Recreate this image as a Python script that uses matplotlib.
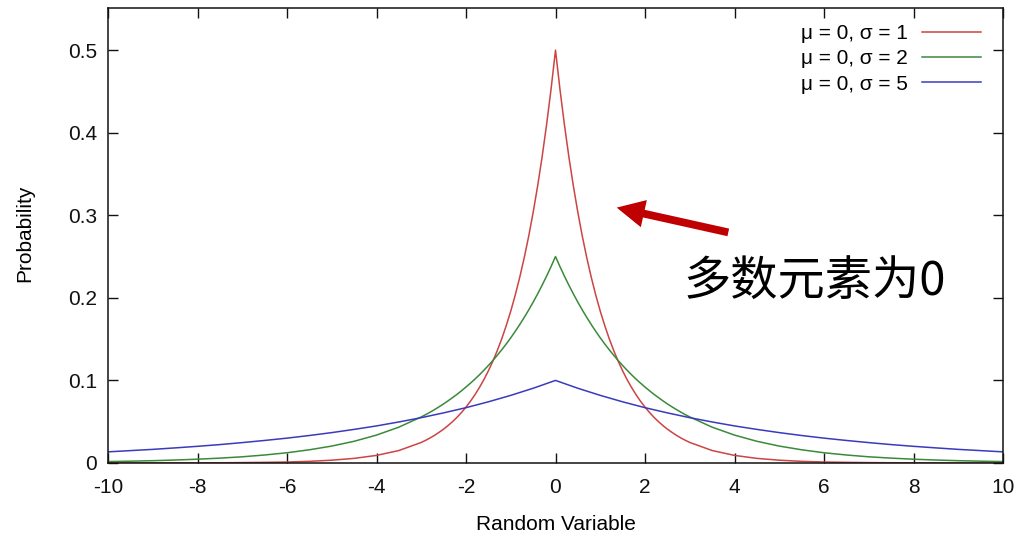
import matplotlib
matplotlib.use("Agg")
import matplotlib.pyplot as plt
from matplotlib.patches import FancyArrowPatch

# Values.
# x grid for the sharp curves: 0.5 steps in the tails, 0.1 steps around the peak
x_fine = [-10.0, -9.5, -9.0, -8.5, -8.0, -7.5, -7.0, -6.5, -6.0, -5.5, -5.0, -4.5, -4.0, -3.5,
          -3.0, -2.9, -2.8, -2.7, -2.6, -2.5, -2.4, -2.3, -2.2, -2.1,
          -2.0, -1.9, -1.8, -1.7, -1.6, -1.5, -1.4, -1.3, -1.2, -1.1,
          -1.0, -0.9, -0.8, -0.7, -0.6, -0.5, -0.4, -0.3, -0.2, -0.1,
          0.0,
          0.1, 0.2, 0.3, 0.4, 0.5, 0.6, 0.7, 0.8, 0.9, 1.0,
          1.1, 1.2, 1.3, 1.4, 1.5, 1.6, 1.7, 1.8, 1.9, 2.0,
          2.1, 2.2, 2.3, 2.4, 2.5, 2.6, 2.7, 2.8, 2.9, 3.0,
          3.5, 4.0, 4.5, 5.0, 5.5, 6.0, 6.5, 7.0, 7.5, 8.0, 8.5, 9.0, 9.5, 10.0]

sigma1 = [0.0000, 0.0000, 0.0001, 0.0001, 0.0002, 0.0003, 0.0005, 0.0008, 0.0012, 0.0020, 0.0034, 0.0056, 0.0092, 0.0151,
          0.0249, 0.0275, 0.0304, 0.0336, 0.0372, 0.0410, 0.0454, 0.0501, 0.0554, 0.0612,
          0.0677, 0.0748, 0.0827, 0.0914, 0.1010, 0.1116, 0.1233, 0.1363, 0.1506, 0.1665,
          0.1839, 0.2033, 0.2247, 0.2483, 0.2744, 0.3033, 0.3352, 0.3704, 0.4094, 0.4524,
          0.5000,
          0.4524, 0.4094, 0.3704, 0.3352, 0.3033, 0.2744, 0.2483, 0.2247, 0.2033, 0.1839,
          0.1665, 0.1506, 0.1363, 0.1233, 0.1116, 0.1010, 0.0914, 0.0827, 0.0748, 0.0677,
          0.0612, 0.0554, 0.0501, 0.0454, 0.0410, 0.0372, 0.0336, 0.0304, 0.0275, 0.0249,
          0.0151, 0.0092, 0.0056, 0.0034, 0.0020, 0.0012, 0.0008, 0.0005, 0.0003, 0.0002, 0.0001, 0.0001, 0.0000, 0.0000]

sigma2 = [0.0017, 0.0022, 0.0028, 0.0036, 0.0046, 0.0059, 0.0075, 0.0097, 0.0124, 0.0160, 0.0205, 0.0263, 0.0338, 0.0434,
          0.0558, 0.0586, 0.0616, 0.0648, 0.0681, 0.0716, 0.0753, 0.0792, 0.0832, 0.0875,
          0.0920, 0.0967, 0.1016, 0.1068, 0.1123, 0.1181, 0.1241, 0.1305, 0.1372, 0.1442,
          0.1516, 0.1594, 0.1676, 0.1762, 0.1852, 0.1947, 0.2047, 0.2152, 0.2262, 0.2378,
          0.2500,
          0.2378, 0.2262, 0.2152, 0.2047, 0.1947, 0.1852, 0.1762, 0.1676, 0.1594, 0.1516,
          0.1442, 0.1372, 0.1305, 0.1241, 0.1181, 0.1123, 0.1068, 0.1016, 0.0967, 0.0920,
          0.0875, 0.0832, 0.0792, 0.0753, 0.0716, 0.0681, 0.0648, 0.0616, 0.0586, 0.0558,
          0.0434, 0.0338, 0.0263, 0.0205, 0.0160, 0.0124, 0.0097, 0.0075, 0.0059, 0.0046, 0.0036, 0.0028, 0.0022, 0.0017]

# x grid for the wide curve: 0.5 steps
x_coarse = [-10.0, -9.5, -9.0, -8.5, -8.0, -7.5, -7.0, -6.5, -6.0, -5.5, -5.0,
            -4.5, -4.0, -3.5, -3.0, -2.5, -2.0, -1.5, -1.0, -0.5, 0.0,
            0.5, 1.0, 1.5, 2.0, 2.5, 3.0, 3.5, 4.0, 4.5, 5.0,
            5.5, 6.0, 6.5, 7.0, 7.5, 8.0, 8.5, 9.0, 9.5, 10.0]

sigma5 = [0.0135, 0.0150, 0.0165, 0.0183, 0.0202, 0.0223, 0.0247, 0.0273, 0.0301, 0.0333, 0.0368,
          0.0407, 0.0449, 0.0497, 0.0549, 0.0607, 0.0670, 0.0741, 0.0819, 0.0905, 0.1000,
          0.0905, 0.0819, 0.0741, 0.0670, 0.0607, 0.0549, 0.0497, 0.0449, 0.0407, 0.0368,
          0.0333, 0.0301, 0.0273, 0.0247, 0.0223, 0.0202, 0.0183, 0.0165, 0.0150, 0.0135]

labels = ["μ = 0, σ = 1", "μ = 0, σ = 2", "μ = 0, σ = 5"]
x_ticks = [-10, -8, -6, -4, -2, 0, 2, 4, 6, 8, 10]
y_ticks = [0, 0.1, 0.2, 0.3, 0.4, 0.5]
y_tick_labels = ["0", "0.1", "0.2", "0.3", "0.4", "0.5"]
annotation = "多数元素为0"

plt.rcParams['font.family'] = ['Liberation Sans', 'DejaVu Sans']
W, H = 1025, 538
fig = plt.figure(figsize=(W / 100, H / 100), dpi=100)
ax = fig.add_axes([108 / W, 1 - 463 / H, (1003 - 108) / W, (463 - 8) / H])

colors = ['#cc4444', '#3a8a3a', '#3a3abf']
series = [(x_fine, sigma1), (x_fine, sigma2), (x_coarse, sigma5)]
for (xs, ys), c, lab in zip(series, colors, labels):
    ax.plot(xs, ys, color=c, lw=1.1, label=lab)

ax.set_xlim(-10, 10)
ax.set_ylim(0, 0.551)
ax.set_xticks(x_ticks)
ax.set_xticklabels([str(t) for t in x_ticks])
ax.set_yticks(y_ticks)
ax.set_yticklabels(y_tick_labels)
ax.tick_params(direction='in', length=7, width=1.0, top=True, right=True,
               labelsize=15, colors='#111111')
ax.tick_params(axis='x', pad=11)
ax.tick_params(axis='y', pad=8)
for s in ax.spines.values():
    s.set_linewidth(1.1)
    s.set_color('#111111')

ax.set_xlabel("Random Variable", fontsize=15)
ax.set_ylabel("Probability", fontsize=15)
ax.xaxis.set_label_coords(0.5, -(525 - 463) / 455)
ax.xaxis.label.set_va('center')
ax.yaxis.set_label_coords(-(108 - 25) / 895, (463 - 233) / 455)
ax.yaxis.label.set_va('center')

ax.legend(loc='upper right', bbox_to_anchor=(981 / W, 1 - 24 / H),
          bbox_transform=fig.transFigure, frameon=False, markerfirst=False,
          fontsize=15, handlelength=2.85, handletextpad=0.65,
          labelspacing=0.3, borderpad=0, borderaxespad=0)

arrow = FancyArrowPatch((731 / W, 1 - 233 / H), (614 / W, 1 - 207 / H),
                        transform=fig.transFigure,
                        arrowstyle='simple,head_length=1.0,head_width=1.0,tail_width=0.28',
                        mutation_scale=20, color='#c00000', lw=0)
fig.patches.append(arrow)

fig.text(683 / W, 1 - 283 / H, annotation, fontsize=34, ha='left', va='center',
         family=['Noto Sans CJK SC', 'DejaVu Sans'], color='black')

fig.savefig("out.png", dpi=100)
